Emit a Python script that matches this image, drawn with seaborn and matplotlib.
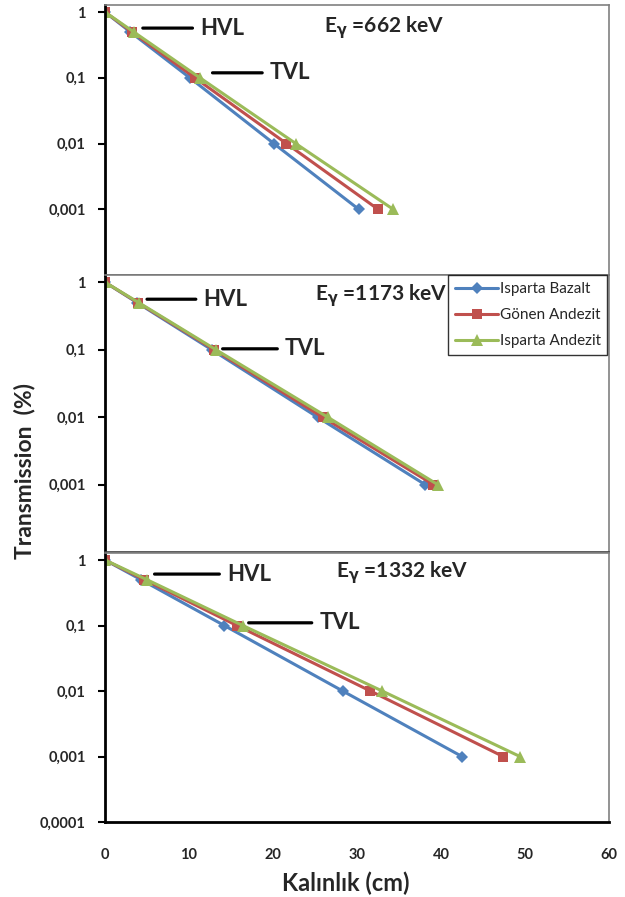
import numpy as np
import pandas as pd
import seaborn as sns
import matplotlib
matplotlib.use('Agg')
import matplotlib.pyplot as plt

# transmission levels (1, HVL, TVL, 2 TVL, 3 TVL)
transmission = [1, 0.5, 0.1, 0.01, 0.001]
materials = ['Isparta Bazalt', 'Gönen Andezit', 'Isparta Andezit']
energies = ['662', '1173', '1332']

# thickness (cm) per energy, per material
thick_662 = {'Isparta Bazalt': [0, 3.0, 10.1, 20.1, 30.2],
             'Gönen Andezit': [0, 3.2, 10.7, 21.6, 32.5],
             'Isparta Andezit': [0, 3.4, 11.3, 22.7, 34.3]}
thick_1173 = {'Isparta Bazalt': [0, 3.8, 12.7, 25.3, 38.1],
              'Gönen Andezit': [0, 3.9, 13.0, 25.9, 39.1],
              'Isparta Andezit': [0, 4.0, 13.2, 26.5, 39.6]}
thick_1332 = {'Isparta Bazalt': [0, 4.3, 14.2, 28.3, 42.5],
              'Gönen Andezit': [0, 4.7, 15.7, 31.6, 47.4],
              'Isparta Andezit': [0, 5.0, 16.4, 33.0, 49.4]}
thick = {'662': thick_662, '1173': thick_1173, '1332': thick_1332}

y_ticks = [1, 0.1, 0.01, 0.001, 0.0001]
y_labels = ['1', '0,1', '0,01', '0,001', '0,0001']
x_ticks = [0, 10, 20, 30, 40, 50, 60]

# label placement: (line start x, text x, y)
hvl_pos = {'662': (4.5, 11.3, 0.57), '1173': (5.0, 11.7, 0.56), '1332': (5.9, 14.5, 0.61)}
tvl_pos = {'662': (12.8, 19.6, 0.119), '1173': (14.0, 21.4, 0.103), '1332': (17.1, 25.5, 0.11)}
e_pos = {'662': (26.1, 0.59), '1173': (25.0, 0.64), '1332': (27.5, 0.65)}

rows = []
for e in energies:
    for m in materials:
        for x, t in zip(thick[e][m], transmission):
            rows.append({'E': e, 'Malzeme': m, 'Kalınlık': x, 'T': t})
df = pd.DataFrame(rows)

sns.set_theme(style='white')
plt.rcParams['font.family'] = ['Lato', 'DejaVu Sans']
plt.rcParams['mathtext.fontset'] = 'dejavusans'

palette = {'Isparta Bazalt': '#4F81BD', 'Gönen Andezit': '#C0504D', 'Isparta Andezit': '#9BBB59'}
markers = {'Isparta Bazalt': 'D', 'Gönen Andezit': 's', 'Isparta Andezit': '^'}
sizes_m = {'Isparta Bazalt': 6, 'Gönen Andezit': 7.5, 'Isparta Andezit': 8.5}

fig = plt.figure(figsize=(6.25, 8.97), dpi=100)
L, R = 105 / 625, 609 / 625
panels = [(5, 275), (275, 552), (553, 822)]

for i, e in enumerate(energies):
    top, bot = panels[i]
    ax = fig.add_axes([L, 1 - bot / 897, R - L, (bot - top) / 897])
    sub = df[df['E'] == e]
    for m in materials:
        sns.lineplot(data=sub[sub['Malzeme'] == m], x='Kalınlık', y='T', color=palette[m],
                     marker=markers[m], markersize=sizes_m[m], markeredgewidth=0,
                     linewidth=2.2, label=m, ax=ax, legend=(i == 1), sort=False)
    ax.set_yscale('log')
    ax.set_ylim(1e-4, 1.28)
    ax.set_xlim(0, 60)
    ax.set_xlabel('')
    ax.set_ylabel('')
    ax.minorticks_off()
    if i == 2:
        ax.set_yticks(y_ticks)
        ax.set_yticklabels(y_labels)
        ax.set_xticks(x_ticks)
        ax.set_xticklabels([str(v) for v in x_ticks])
        ax.tick_params(axis='x', direction='out', length=5, width=1.5, color='black',
                       pad=14, labelsize=10.5)
        ax.spines['bottom'].set_color('black')
        ax.spines['bottom'].set_linewidth(2)
    else:
        ax.set_yticks(y_ticks[:-1])
        ax.set_yticklabels(y_labels[:-1])
        ax.set_xticks([])
        ax.spines['bottom'].set_color('#404040')
        ax.spines['bottom'].set_linewidth(1.2)
    for lab in ax.get_yticklabels() + ax.get_xticklabels():
        lab.set_fontweight('bold')
    ax.tick_params(axis='y', direction='out', length=5, width=1.5, color='black',
                   pad=9, labelsize=10.5, left=True)
    ax.spines['left'].set_color('black')
    ax.spines['left'].set_linewidth(2)
    for s in ['top', 'right']:
        ax.spines[s].set_color('#808080')
        ax.spines[s].set_linewidth(1.2)

    x0, xt, yv = hvl_pos[e]
    ax.annotate('HVL', xy=(x0, yv), xytext=(xt, yv), va='center', ha='left',
                fontsize=16, fontweight='bold',
                arrowprops=dict(arrowstyle='-', lw=2.3, color='black',
                                shrinkA=3, shrinkB=0, relpos=(0, 0.5)))
    x0, xt, yv = tvl_pos[e]
    ax.annotate('TVL', xy=(x0, yv), xytext=(xt, yv), va='center', ha='left',
                fontsize=16, fontweight='bold',
                arrowprops=dict(arrowstyle='-', lw=2.3, color='black',
                                shrinkA=3, shrinkB=0, relpos=(0, 0.5)))
    ex, ey = e_pos[e]
    ax.text(ex, ey, r'E$_{\mathbf{\gamma}}$ =' + e + ' keV', va='center', ha='left',
            fontsize=15, fontweight='bold')

    if i == 1:
        h, l = ax.get_legend_handles_labels()
        leg = ax.legend(h, l, loc='upper right', bbox_to_anchor=(0.997, 1.0),
                        borderaxespad=0, fontsize=11, frameon=True, fancybox=False,
                        handlelength=2.8, handletextpad=0.1, labelspacing=0.8,
                        borderpad=0.45)
        leg.get_frame().set_edgecolor('black')
        leg.get_frame().set_linewidth(1)

fig.text(25 / 625, 1 - 471 / 897, 'Transmission  (%)', rotation=90, ha='center', va='center',
         fontsize=16.5, fontweight='bold')
fig.text(346 / 625, 1 - 883 / 897, 'Kalınlık (cm)', ha='center', va='center',
         fontsize=17, fontweight='bold')

fig.savefig('out.png', dpi=100)
